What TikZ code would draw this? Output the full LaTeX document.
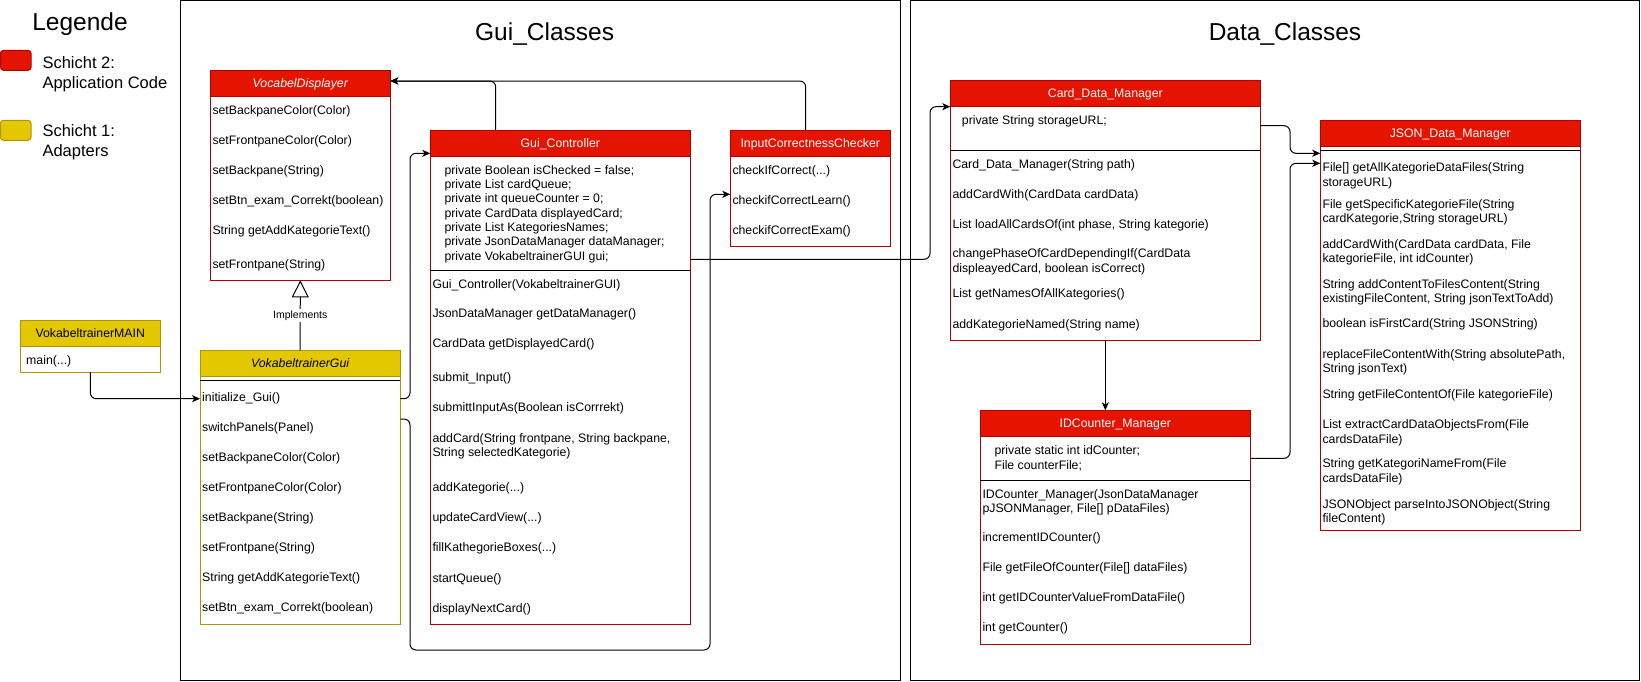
\documentclass[tikz,border=0pt]{standalone}
\usepackage{fontspec}
\setmainfont{Liberation Sans}
\usetikzlibrary{arrows.meta}

\definecolor{redF}{HTML}{E51400}
\definecolor{redS}{HTML}{B20000}
\definecolor{yelF}{HTML}{E3C800}
\definecolor{yelS}{HTML}{B09500}

\tikzset{
  frame/.style={draw=black, line width=1pt, anchor=north west, inner sep=0pt, outer sep=0pt},
  classbody/.style={draw=#1S, fill=white, line width=1pt, anchor=north west, inner sep=0pt, outer sep=0pt},
  classhead/.style={draw=#1S, fill=#1F, line width=1pt, anchor=north west, inner sep=0pt, outer sep=0pt},
  headtext/.style={anchor=base, inner sep=0pt, font=\fontsize{12.3}{14.4}\selectfont},
  member/.style={anchor=base west, inner sep=0pt, font=\fontsize{12.3}{14.4}\selectfont},
  sepline/.style={draw=black, line width=1pt},
  titletext/.style={anchor=base, inner sep=0pt, font=\fontsize{24.5}{29}\selectfont},
  legtext/.style={anchor=base west, inner sep=0pt, font=\fontsize{16.5}{20}\selectfont},
  legbox/.style={draw=#1S, fill=#1F, line width=1pt, rounded corners=3pt, anchor=north west,
    inner sep=0pt, outer sep=0pt, minimum width=30.5pt, minimum height=20pt},
  conn/.style={draw=black, line width=1pt, rounded corners=6pt,
    -{Stealth[length=8pt, width=7pt, inset=2.2pt]}},
  impl/.style={draw=black, line width=1pt, -{Triangle[open, length=17pt, width=17pt]}},
  impllabel/.style={fill=white, inner sep=1.5pt, font=\fontsize{10.5}{12}\selectfont}
}

% three dots kept out of the reach of \foreach's range syntax
\newcommand\ellip{...}

% class box: name, colour kind, x, y, width, height, title style, title
\newcommand\umlclass[8]{%
  \node[classbody=#2, minimum width=#5pt, minimum height=#6pt] (#1) at (#3,#4) {};
  \node[classhead=#2, minimum width=#5pt, minimum height=26pt] (#1-head) at (#3,#4) {};
  \node[headtext, #7] (#1-title) at ([yshift=-4.4pt]#1-head.center) {#8};
}
% member lines: name prefix, x, list of centre-y/text
\newcommand\members[3]{%
  \foreach \my/\mtext [count=\mi] in {#3} {\node[member] (#1-\mi) at (#2,\my+4) {\mtext};}
}
% separator between attribute and method compartments
\newcommand\compartment[2]{\draw[sepline] (#1.west |- 0,#2) -- (#1.east |- 0,#2);}

\begin{document}
\begin{tikzpicture}[x=1pt, y=-1pt]
\useasboundingbox (0,0) rectangle (1641,681);

% legend
\node[titletext] (legend-title) at (80,30) {Legende};
\node[legbox=red] (leg-red) at (0.5,50.3) {};
\node[legtext] (leg-red-a) at (42.3,68.3) {Schicht 2:};
\node[legtext] (leg-red-b) at (42.3,88.3) {Application Code};
\node[legbox=yel] (leg-yel) at (0.5,120.3) {};
\node[legtext] (leg-yel-a) at (42.3,136) {Schicht 1:};
\node[legtext] (leg-yel-b) at (42.3,156) {Adapters};

% packages
\node[frame, minimum width=720pt, minimum height=679.5pt] (gui) at (180.3,0.5) {};
\node[frame, minimum width=729.2pt, minimum height=679.5pt] (data) at (910.3,0.5) {};
\node[titletext] (gui-title) at (544.6,40) {Gui\_Classes};
\node[titletext] (data-title) at (1285,40) {Data\_Classes};

% Gui classes
\umlclass{vd}{red}{210.3}{70.3}{180}{210}{text=white, font=\fontsize{12.3}{14.4}\selectfont\itshape}{VocabelDisplayer}
\members{vd}{212.3}{110/setBackpaneColor(Color), 140/setFrontpaneColor(Color), 170/setBackpane(String),
  200/setBtn\_exam\_Correkt(boolean), 230/String getAddKategorieText(), 264/setFrontpane(String)}

\umlclass{vm}{yel}{20.3}{320.3}{140}{51.7}{text=black}{VokabeltrainerMAIN}
\members{vm}{26}{360/main(\ellip)}

\umlclass{vg}{yel}{200}{350.3}{200.3}{273.7}{text=black, font=\fontsize{12.3}{14.4}\selectfont\itshape}{VokabeltrainerGui}
\compartment{vg}{380}
\members{vg}{202}{397.7/initialize\_Gui(), 427.7/switchPanels(Panel), 457.7/setBackpaneColor(Color),
  487.7/setFrontpaneColor(Color), 517.7/setBackpane(String), 547.7/setFrontpane(String),
  577.7/String getAddKategorieText(), 607.7/setBtn\_exam\_Correkt(boolean)}

\umlclass{gc}{red}{430.3}{130.3}{260}{493.7}{text=white}{Gui\_Controller}
\compartment{gc}{270.3}
\members{gc-attr}{444.3}{170/private Boolean isChecked = false;, 184.7/private List cardQueue;,
  198.7/private int queueCounter = 0;, 213/private CardData displayedCard;,
  227.3/private List KategoriesNames;, 241.3/private JsonDataManager dataManager;,
  256/private VokabeltrainerGUI gui;}
\members{gc}{432.3}{284/Gui\_Controller(VokabeltrainerGUI), 313.7/JsonDataManager getDataManager(),
  343.7/CardData getDisplayedCard(), 377.3/submit\_Input(), 407.3/submittInputAs(Boolean isCorrrekt),
  438.3/{addCard(String frontpane, String backpane,}, 452.7/String selectedKategorie),
  487.7/addKategorie(\ellip), 517.7/updateCardView(\ellip), 547.7/fillKathegorieBoxes(\ellip),
  578/startQueue(), 608/displayNextCard()}

\umlclass{icc}{red}{730.3}{130.3}{160}{115.7}{text=white}{InputCorrectnessChecker}
\members{icc}{732.3}{170/checkIfCorrect(\ellip), 200/checkifCorrectLearn(), 230/checkifCorrectExam()}

% Data classes
\umlclass{cdm}{red}{950.3}{80.3}{310}{260}{text=white}{Card\_Data\_Manager}
\compartment{cdm}{150}
\members{cdm-attr}{961.7}{120/private String storageURL;}
\members{cdm}{952.3}{164/Card\_Data\_Manager(String path), 194/addCardWith(CardData cardData),
  224/{List loadAllCardsOf(int phase, String kategorie)}, 253.3/changePhaseOfCardDependingIf(CardData,
  268.7/{displeayedCard, boolean isCorrect)}, 293.3/List getNamesOfAllKategories(),
  324/addKategorieNamed(String name)}

\umlclass{idc}{red}{980.3}{410.3}{270}{234}{text=white}{IDCounter\_Manager}
\compartment{idc}{480}
\members{idc-attr}{994.3}{450/private static int idCounter;, 465/File counterFile;}
\members{idc}{982.3}{494/IDCounter\_Manager(JsonDataManager, 508.3/{pJSONManager, File[] pDataFiles)},
  537.7/incrementIDCounter(), 567.7/File getFileOfCounter(File[] dataFiles),
  597.7/int getIDCounterValueFromDataFile(), 627.7/int getCounter()}

\umlclass{json}{red}{1320.3}{120.3}{260}{409.7}{text=white}{JSON\_Data\_Manager}
\compartment{json}{150}
\members{json}{1322.3}{167.7/File[] getAllKategorieDataFiles(String, 182.3/storageURL),
  204/File getSpecificKategorieFile(String, 218.7/{cardKategorie,String storageURL)},
  244/{addCardWith(CardData cardData, File}, 258.7/{kategorieFile, int idCounter)},
  284/String addContentToFilesContent(String, 298.3/{existingFileContent, String jsonTextToAdd)},
  323.7/boolean isFirstCard(String JSONString),
  354/{replaceFileContentWith(String absolutePath,}, 368.7/String jsonText),
  394/String getFileContentOf(File kategorieFile),
  424/List extractCardDataObjectsFrom(File, 439/cardsDataFile),
  463.3/String getKategoriNameFrom(File, 478.3/cardsDataFile),
  504/JSONObject parseIntoJSONObject(String, 518.3/fileContent)}

% relations
\draw[impl] (vg.north) -- node[impllabel] (impl-label) {Implements} (vd.south);
\draw[conn] (vm.south) |- (vg.west |- 0,398.7);
\draw[conn] (vg.east |- 0,398.7) -| (410,153.3) -- (gc.west |- 0,153.3);
\draw[conn] (vg.east |- 0,419) -| (410,650) -| (710,194.3) -- (icc.west |- 0,194.3);
\draw[conn] (gc.north -| 495.7,0) |- (vd.east |- 0,81);
\draw[conn] (icc.north -| 805.7,0) |- (vd.east |- 0,81);
\draw[conn] (gc.east |- 0,259.3) -| (930,106.7) -- (cdm.west |- 0,106.7);
\draw[conn] (cdm.south) -- (cdm.south |- idc.north);
\draw[conn] (cdm.east |- 0,125.7) -| (1290,153.3) -- (json.west |- 0,153.3);
\draw[conn] (idc.east |- 0,458.3) -| (1290,163.3) -- (json.west |- 0,163.3);
\end{tikzpicture}
\end{document}
